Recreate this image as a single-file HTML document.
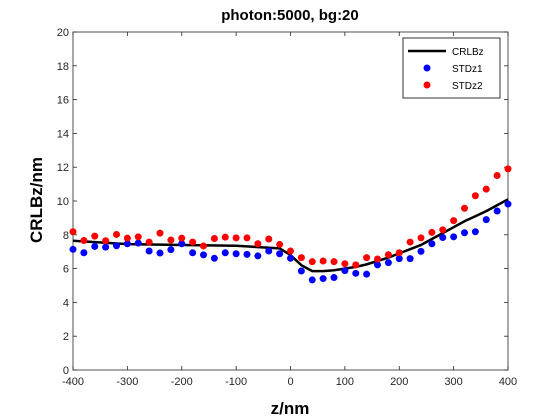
<!DOCTYPE html>
<html><head><meta charset="utf-8"><style>
body{margin:0;background:#fff;}
svg{display:block;font-family:"Liberation Sans",Arial,sans-serif;}
</style></head><body>
<svg id="chart" width="560" height="420">
<rect x="0" y="0" width="560" height="420" fill="#fff"/>
<text x="290" y="20" text-anchor="middle" font-size="15" font-weight="bold">photon:5000, bg:20</text>
<g id="plot"></g>
<text x="290" y="414" text-anchor="middle" font-size="17" font-weight="bold">z/nm</text>
<text transform="translate(42,200) rotate(-90)" text-anchor="middle" font-size="17" font-weight="bold">CRLBz/nm</text>
<g>
<rect x="403" y="38" width="97" height="60" fill="#fff" stroke="#000" stroke-width="0.8"/>
<g><line x1="408" y1="51" x2="446" y2="51" stroke="#000" stroke-width="2.5"/><text x="452" y="55" font-size="10">CRLBz</text></g>
<g><circle cx="427" cy="68" r="3.5" fill="#0000ff"/><text x="452" y="72" font-size="10">STDz1</text></g>
<g><circle cx="427" cy="85" r="3.5" fill="#ff0000"/><text x="452" y="89" font-size="10">STDz2</text></g>
</g>
</svg>
<script>
const zValues=[-400,-380,-360,-340,-320,-300,-280,-260,-240,-220,-200,-180,-160,-140,-120,-100,-80,-60,-40,-20,0,20,40,60,80,100,120,140,160,180,200,220,240,260,280,300,320,340,360,380,400];
const stdz1=[7.14,6.94,7.31,7.27,7.35,7.47,7.51,7.04,6.92,7.12,7.47,6.94,6.81,6.61,6.94,6.88,6.84,6.75,7.04,6.88,6.61,5.86,5.33,5.41,5.47,5.88,5.72,5.67,6.22,6.35,6.59,6.59,7.02,7.47,7.84,7.88,8.12,8.18,8.9,9.41,9.82];
const stdz2=[8.18,7.66,7.92,7.65,8.02,7.8,7.88,7.57,8.1,7.69,7.8,7.57,7.34,7.78,7.86,7.82,7.82,7.47,7.75,7.43,7.04,6.65,6.41,6.45,6.41,6.29,6.22,6.65,6.57,6.82,6.94,7.57,7.82,8.14,8.29,8.84,9.57,10.31,10.7,11.51,11.9];
const crlbZ=[-400,-300,-200,-100,-20,0,20,40,60,80,100,120,140,160,180,200,220,240,260,280,300,320,340,360,380,400];
const crlbV=[7.65,7.45,7.4,7.35,7.2,6.8,6.2,5.85,5.85,5.9,6.0,6.1,6.25,6.45,6.65,6.9,7.15,7.4,7.75,8.1,8.45,8.8,9.1,9.4,9.75,10.1];
const xTicks=[-400,-300,-200,-100,0,100,200,300,400];
const yTicks=[0,2,4,6,8,10,12,14,16,18,20];
const L=73,R=508,T=32,B=370;
const xs=v=>L+(v+400)/800*(R-L);
const ys=v=>B-v/20*(B-T);
const NS="http://www.w3.org/2000/svg";
const g=document.getElementById('plot');
function mk(t,a){const e=document.createElementNS(NS,t);for(const k in a)e.setAttribute(k,a[k]);g.appendChild(e);return e;}
const frame=mk('rect',{x:L,y:T,width:R-L,height:B-T,fill:'none',stroke:'#262626','stroke-width':0.8});


xTicks.forEach(v=>{const x=xs(v);
mk('line',{x1:x,y1:B,x2:x,y2:B-4,stroke:'#262626','stroke-width':0.8});
mk('line',{x1:x,y1:T,x2:x,y2:T+4,stroke:'#262626','stroke-width':0.8});
const t=mk('text',{x:x,y:B+15,'text-anchor':'middle','font-size':11,fill:'#262626'});t.textContent=v;

});
yTicks.forEach(v=>{const y=ys(v);
mk('line',{x1:L,y1:y,x2:L+4,y2:y,stroke:'#262626','stroke-width':0.8});
mk('line',{x1:R,y1:y,x2:R-4,y2:y,stroke:'#262626','stroke-width':0.8});
const t=mk('text',{x:L-4,y:y+4,'text-anchor':'end','font-size':11,fill:'#262626'});t.textContent=v;

});
const line=mk('polyline',{points:crlbZ.map((z,i)=>xs(z)+','+ys(crlbV[i])).join(' '),fill:'none',stroke:'#000','stroke-width':2.5});


zValues.forEach((z,i)=>{const c=mk('circle',{cx:xs(z),cy:ys(stdz1[i]),r:3.5,fill:'#0000ff'});

});
zValues.forEach((z,i)=>{const c=mk('circle',{cx:xs(z),cy:ys(stdz2[i]),r:3.5,fill:'#ff0000'});

});
</script>
</body></html>
